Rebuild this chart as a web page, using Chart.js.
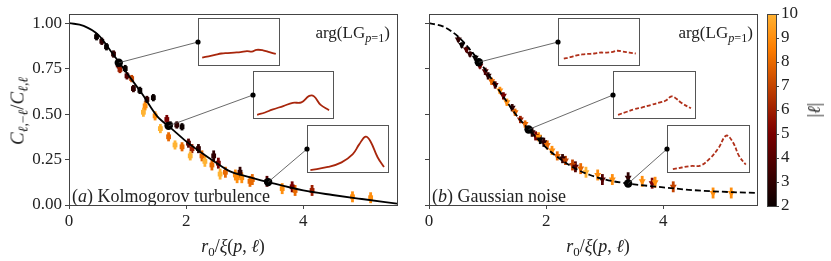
<!DOCTYPE html>
<html>
<head>
<meta charset="utf-8">
<script src="https://cdn.jsdelivr.net/npm/chart.js@4.4.1/dist/chart.umd.min.js"></script>
<style>
  body { margin: 0; background: #fff; }
  #wrap { position: relative; width: 831px; height: 261px; overflow: hidden; font-family: 'Liberation Serif', serif; color: #222; }
  canvas.full { position: absolute; left: 0; top: 0; z-index: 2; }
  .inset { position: absolute; border: 1px solid #555; background: #fff; box-sizing: border-box; z-index: 1; }
  .inset canvas { display: block; }
  .lbl { position: absolute; white-space: nowrap; font-size: 17px; z-index: 3; line-height: 1; }
  .rot { transform: translate(-50%, -50%) rotate(-90deg); }
  sub { font-size: 0.72em; vertical-align: -0.3em; line-height: 0; }
</style>
</head>
<body>
<div id="wrap">
  <canvas id="panelA" class="full" width="831" height="261"></canvas>
  <canvas id="panelB" class="full" width="831" height="261"></canvas>
  <canvas id="cbar" class="full" width="831" height="261"></canvas>

  <div class="inset" id="a1" style="left:198px;top:18px;width:82px;height:48px"><canvas width="80" height="46"></canvas></div>
  <div class="inset" id="a2" style="left:253px;top:71px;width:81px;height:48px"><canvas width="79" height="46"></canvas></div>
  <div class="inset" id="a3" style="left:307px;top:125px;width:82px;height:48px"><canvas width="80" height="46"></canvas></div>
  <div class="inset" id="b1" style="left:558px;top:18px;width:82px;height:48px"><canvas width="80" height="46"></canvas></div>
  <div class="inset" id="b2" style="left:613px;top:71px;width:83px;height:48px"><canvas width="81" height="46"></canvas></div>
  <div class="inset" id="b3" style="left:667px;top:125px;width:83px;height:48px"><canvas width="81" height="46"></canvas></div>

  <div class="lbl rot" style="left:17px;top:111px;font-size:19px"><i>C</i><sub><i>ℓ</i>,−<i>ℓ</i></sub>/<i>C</i><sub><i>ℓ</i>,<i>ℓ</i></sub></div>
  <div class="lbl" style="left:233px;top:237px;font-size:18px;transform:translateX(-50%)"><i>r</i><sub>0</sub>/<i>ξ</i>(<i>p</i>, <i>ℓ</i>)</div>
  <div class="lbl" style="left:598px;top:237px;font-size:18px;transform:translateX(-50%)"><i>r</i><sub>0</sub>/<i>ξ</i>(<i>p</i>, <i>ℓ</i>)</div>
  <div class="lbl" style="right:441px;top:24px">arg(LG<sub><i>p</i>=1</sub>)</div>
  <div class="lbl" style="right:78px;top:24px">arg(LG<sub><i>p</i>=1</sub>)</div>
  <div class="lbl" style="left:72px;top:187px;font-size:18px">(<i>a</i>) Kolmogorov turbulence</div>
  <div class="lbl" style="left:432px;top:187px;font-size:18px">(<i>b</i>) Gaussian noise</div>
  <div class="lbl rot" style="left:814px;top:110px;font-size:18px">|<i>ℓ</i>|</div>
</div>

<script>
// axis ticks
const xTicks = [0, 2, 4];
const yTicks = [0, 0.25, 0.5, 0.75, 1.0];
const yTickLabels = ['0.00', '0.25', '0.50', '0.75', '1.00'];
const cbTicks = [2, 3, 4, 5, 6, 7, 8, 9, 10];

// model curves
const curveX = [0, 0.25, 0.5, 0.75, 1.0, 1.25, 1.5, 1.75, 2.0, 2.25, 2.5, 2.75, 3.0, 3.4, 4.0, 4.5, 5.0, 5.6];
const kolCurveY = [1.0, 0.985, 0.935, 0.83, 0.72, 0.61, 0.49, 0.42, 0.35, 0.29, 0.235, 0.185, 0.16, 0.126, 0.08, 0.055, 0.033, 0.008];
const gauCurveY = [1.0, 0.98, 0.925, 0.835, 0.725, 0.605, 0.49, 0.40, 0.315, 0.25, 0.20, 0.165, 0.14, 0.118, 0.097, 0.082, 0.073, 0.066];

// highlighted points linked to the insets
const markX = [0.85, 1.7, 3.4];
const kolMarkY = [0.782, 0.435, 0.126];
const gauMarkY = [0.785, 0.415, 0.118];

// (a) Kolmogorov turbulence measurements
const kolX = [0.47, 0.56, 0.64, 0.76, 0.84, 0.87, 0.96, 0.99, 1.07, 1.10, 1.21, 1.27, 1.30, 1.33, 1.44, 1.47,
              1.56, 1.67, 1.73, 1.84, 1.93, 1.70, 1.81, 1.93, 2.04, 2.10, 2.07, 2.21, 2.27, 2.32, 2.44, 2.47,
              2.55, 2.58, 2.67, 2.84, 2.87, 2.92, 2.95, 3.09, 3.13, 3.38, 3.64, 3.81, 3.86, 4.15, 4.84, 5.15];
const kolY = [0.925, 0.90, 0.87, 0.83, 0.77, 0.745, 0.75, 0.71, 0.695, 0.64, 0.63, 0.51, 0.545, 0.58, 0.59, 0.49,
              0.42, 0.47, 0.44, 0.44, 0.43, 0.375, 0.33, 0.32, 0.34, 0.31, 0.27, 0.31, 0.27, 0.24, 0.22, 0.27,
              0.23, 0.17, 0.18, 0.165, 0.15, 0.18, 0.15, 0.13, 0.14, 0.13, 0.09, 0.10, 0.08, 0.08, 0.045, 0.04];
const kolErr = [0.02, 0.02, 0.02, 0.02, 0.02, 0.02, 0.02, 0.02, 0.02, 0.02, 0.02, 0.025, 0.025, 0.02, 0.02, 0.025,
                0.025, 0.025, 0.02, 0.02, 0.02, 0.025, 0.025, 0.025, 0.025, 0.025, 0.025, 0.025, 0.03, 0.03, 0.03, 0.03,
                0.03, 0.03, 0.03, 0.03, 0.03, 0.03, 0.03, 0.03, 0.03, 0.03, 0.03, 0.03, 0.03, 0.03, 0.03, 0.03];
const kolL = [2, 3, 2, 3, 4, 6, 2, 4, 7, 3, 2, 10, 9, 3, 2, 9,
              10, 5, 2, 3, 2, 8, 10, 8, 4, 6, 10, 3, 8, 10, 8, 3,
              5, 10, 8, 9, 9, 3, 9, 8, 8, 4, 9, 5, 8, 6, 9, 9];

// (b) Gaussian noise measurements
const gauX = [0.50, 0.56, 0.64, 0.70, 0.79, 0.87, 0.96, 1.01, 1.07, 1.13, 1.21, 1.27, 1.33, 1.42, 1.47, 1.56,
              1.64, 1.76, 1.82, 1.87, 1.90, 1.96, 2.02, 2.10, 2.19, 2.28, 2.33, 2.45, 2.50, 2.59, 2.68, 2.88,
              2.96, 3.13, 3.40, 3.64, 3.81, 3.86, 4.17, 4.85, 5.16];
const gauY = [0.91, 0.88, 0.855, 0.83, 0.81, 0.765, 0.735, 0.71, 0.68, 0.66, 0.63, 0.60, 0.565, 0.535, 0.51, 0.47,
              0.445, 0.40, 0.38, 0.375, 0.36, 0.345, 0.33, 0.30, 0.27, 0.255, 0.245, 0.22, 0.21, 0.20, 0.18, 0.165,
              0.14, 0.14, 0.15, 0.13, 0.12, 0.125, 0.10, 0.066, 0.066];
const gauErr = [0.015, 0.015, 0.015, 0.015, 0.015, 0.015, 0.02, 0.02, 0.02, 0.02, 0.02, 0.02, 0.02, 0.02, 0.02, 0.02,
                0.02, 0.025, 0.025, 0.025, 0.025, 0.025, 0.025, 0.025, 0.025, 0.025, 0.025, 0.03, 0.03, 0.03, 0.03, 0.03,
                0.03, 0.03, 0.03, 0.03, 0.03, 0.03, 0.03, 0.03, 0.03];
const gauL = [3, 2, 4, 3, 2, 5, 4, 3, 8, 4, 9, 5, 9, 3, 8, 6,
              8, 3, 5, 9, 2, 3, 8, 9, 8, 3, 7, 7, 4, 8, 10, 9,
              4, 9, 3, 9, 5, 9, 7, 9, 9];

// inset phase profiles (fractions of the inset box)
const insetA1X = [0.04, 0.12, 0.2, 0.28, 0.36, 0.44, 0.52, 0.6, 0.66, 0.72, 0.8, 0.88, 0.96];
const insetA1Y = [0.16, 0.19, 0.22, 0.25, 0.26, 0.27, 0.28, 0.30, 0.29, 0.33, 0.32, 0.28, 0.24];
const insetA2X = [0.04, 0.14, 0.23, 0.37, 0.49, 0.6, 0.70, 0.76, 0.84, 0.95];
const insetA2Y = [0.07, 0.12, 0.18, 0.26, 0.33, 0.34, 0.48, 0.47, 0.29, 0.17];
const insetA3X = [0.03, 0.25, 0.42, 0.56, 0.64, 0.72, 0.78, 0.87, 0.95];
const insetA3Y = [0.04, 0.11, 0.21, 0.39, 0.60, 0.77, 0.67, 0.32, 0.11];
const insetB1X = [0.06, 0.14, 0.22, 0.29, 0.36, 0.44, 0.51, 0.58, 0.66, 0.73, 0.8, 0.88, 0.96];
const insetB1Y = [0.14, 0.17, 0.21, 0.23, 0.24, 0.25, 0.27, 0.27, 0.28, 0.31, 0.29, 0.27, 0.25];
const insetB2X = [0.05, 0.15, 0.25, 0.35, 0.45, 0.57, 0.64, 0.71, 0.77, 0.83, 0.95];
const insetB2Y = [0.07, 0.13, 0.19, 0.23, 0.28, 0.34, 0.38, 0.47, 0.42, 0.33, 0.21];
const insetB3X = [0.06, 0.28, 0.4, 0.52, 0.62, 0.72, 0.8, 0.88, 0.96];
const insetB3Y = [0.06, 0.13, 0.14, 0.30, 0.51, 0.79, 0.65, 0.34, 0.16];

const SERIF = "'Liberation Serif', serif";
const INK = '#222';
const FRAME = '#444';

// truncated afmhot colour map for |l| in [2, 10]
function lColor(l) {
    const t = 0.02 + (l - 2) / 8 * 0.58;
    const c = v => Math.round(255 * Math.max(0, Math.min(1, v)));
    return `rgb(${c(2 * t)}, ${c(2 * t - 0.5)}, ${c(2 * t - 1)})`;
}

const toXY = (xs, ys) => xs.map((x, i) => ({ x: x, y: ys[i] }));

// frame, error bars and inset connectors
const panelPlugin = {
    id: 'panelExtras',
    beforeDatasetsDraw(chart) {
        const { ctx, scales } = chart;
        chart.data.datasets.forEach(ds => {
            if (!ds.yErr) return;
            ctx.save();
            ctx.lineWidth = 2.8;
            ds.data.forEach((p, i) => {
                const px = scales.x.getPixelForValue(p.x);
                ctx.strokeStyle = ds.pointBackgroundColor[i];
                ctx.beginPath();
                ctx.moveTo(px, scales.y.getPixelForValue(p.y - ds.yErr[i]));
                ctx.lineTo(px, scales.y.getPixelForValue(p.y + ds.yErr[i]));
                ctx.stroke();
            });
            ctx.restore();
        });
    },
    afterDatasetsDraw(chart, args, opts) {
        const { ctx, chartArea: a } = chart;
        ctx.save();
        ctx.strokeStyle = FRAME;
        ctx.lineWidth = 1;
        ctx.strokeRect(a.left + 0.5, a.top + 0.5, a.right - a.left, a.bottom - a.top);
        if (opts.insets) {
            const meta = chart.getDatasetMeta(0);
            opts.insets.forEach((id, i) => {
                const el = document.getElementById(id);
                const tx = el.offsetLeft, ty = el.offsetTop + el.offsetHeight / 2;
                const p = meta.data[i];
                ctx.strokeStyle = '#444';
                ctx.lineWidth = 0.8;
                ctx.beginPath();
                ctx.moveTo(p.x, p.y);
                ctx.lineTo(tx, ty);
                ctx.stroke();
                ctx.fillStyle = '#000';
                ctx.beginPath();
                ctx.arc(tx, ty, 2.6, 0, Math.PI * 2);
                ctx.fill();
            });
        }
        ctx.restore();
    }
};

function makePanel(canvasId, cfg) {
    return new Chart(document.getElementById(canvasId), {
        type: 'scatter',
        data: {
            datasets: [
                {
                    data: toXY(markX, cfg.markY),
                    pointRadius: 4.2, pointBackgroundColor: '#000', pointBorderColor: '#000', pointBorderWidth: 0
                },
                {
                    data: toXY(curveX, cfg.curveY),
                    showLine: true, pointRadius: 0, borderColor: '#000', borderWidth: 1.8,
                    borderDash: cfg.dash, cubicInterpolationMode: 'monotone'
                },
                {
                    data: toXY(cfg.xs, cfg.ys),
                    yErr: cfg.err,
                    pointStyle: cfg.marker, rotation: cfg.rotation, pointRadius: cfg.radius,
                    pointBackgroundColor: cfg.ls.map(lColor), pointBorderColor: cfg.ls.map(lColor), pointBorderWidth: 0
                }
            ]
        },
        options: {
            responsive: false,
            animation: false,
            events: [],
            layout: { padding: cfg.padding },
            plugins: {
                legend: { display: false },
                tooltip: { enabled: false },
                panelExtras: { insets: cfg.insets }
            },
            scales: {
                x: {
                    type: 'linear', min: 0, max: 5.6,
                    afterBuildTicks: s => { s.ticks = xTicks.map(v => ({ value: v })); },
                    afterFit: s => { s.height = 56; },
                    grid: { drawOnChartArea: false, drawTicks: true, tickLength: 4, color: FRAME },
                    border: { display: false },
                    ticks: { color: INK, padding: 2, font: { family: SERIF, size: 17 }, maxRotation: 0, callback: v => String(v) }
                },
                y: {
                    type: 'linear', min: 0, max: 1.05,
                    afterBuildTicks: s => { s.ticks = yTicks.map(v => ({ value: v })); },
                    afterFit: s => { s.width = 45; },
                    grid: { drawOnChartArea: false, drawTicks: true, tickLength: 4, color: FRAME },
                    border: { display: false },
                    ticks: {
                        color: cfg.yLabels ? INK : 'rgba(0,0,0,0)', padding: 3,
                        font: { family: SERIF, size: 17 },
                        callback: v => yTickLabels[yTicks.indexOf(v)]
                    }
                }
            }
        },
        plugins: [panelPlugin]
    });
}

makePanel('panelA', {
    markY: kolMarkY, curveY: kolCurveY, dash: [],
    xs: kolX, ys: kolY, err: kolErr, ls: kolL,
    marker: 'rect', rotation: 0, radius: 3.4,
    padding: { left: 24, right: 434, top: 14, bottom: 0 },
    insets: ['a1', 'a2', 'a3'], yLabels: true
});

makePanel('panelB', {
    markY: gauMarkY, curveY: gauCurveY, dash: [6, 3],
    xs: gauX, ys: gauY, err: gauErr, ls: gauL,
    marker: 'triangle', rotation: 180, radius: 4,
    padding: { left: 384, right: 74, top: 14, bottom: 0 },
    insets: ['b1', 'b2', 'b3'], yLabels: false
});

// colour bar
new Chart(document.getElementById('cbar'), {
    type: 'bar',
    data: {
        labels: [''],
        datasets: [{
            data: [[cbTicks[0], cbTicks[cbTicks.length - 1]]],
            barPercentage: 1, categoryPercentage: 1,
            backgroundColor: c => {
                const a = c.chart.chartArea;
                if (!a) return null;
                const g = c.chart.ctx.createLinearGradient(0, a.bottom, 0, a.top);
                for (let k = 0; k <= 16; k++) g.addColorStop(k / 16, lColor(2 + k / 2));
                return g;
            }
        }]
    },
    options: {
        responsive: false,
        animation: false,
        events: [],
        layout: { padding: { left: 767, right: 15, top: 14, bottom: 55 } },
        plugins: { legend: { display: false }, tooltip: { enabled: false }, panelExtras: {} },
        scales: {
            x: { display: false },
            y: {
                position: 'right', min: 2, max: 10,
                afterBuildTicks: s => { s.ticks = cbTicks.map(v => ({ value: v })); },
                afterFit: s => { s.width = 40; },
                grid: { drawOnChartArea: false, drawTicks: true, tickLength: 3, color: FRAME },
                border: { display: false },
                ticks: { color: INK, padding: 2, font: { family: SERIF, size: 17 } }
            }
        }
    },
    plugins: [panelPlugin]
});

// insets
function makeInset(id, xs, ys, dashed) {
    const canvas = document.querySelector('#' + id + ' canvas');
    new Chart(canvas, {
        type: 'scatter',
        data: {
            datasets: [{
                data: toXY(xs, ys), showLine: true, pointRadius: 0,
                borderColor: dashed ? '#b0301a' : '#a8260c', borderWidth: 1.8,
                borderDash: dashed ? [4, 2] : [], tension: 0.4
            }]
        },
        options: {
            responsive: false, animation: false, events: [],
            layout: { padding: 0 },
            plugins: { legend: { display: false }, tooltip: { enabled: false } },
            scales: { x: { display: false, min: 0, max: 1 }, y: { display: false, min: 0, max: 1 } }
        }
    });
}
makeInset('a1', insetA1X, insetA1Y, false);
makeInset('a2', insetA2X, insetA2Y, false);
makeInset('a3', insetA3X, insetA3Y, false);
makeInset('b1', insetB1X, insetB1Y, true);
makeInset('b2', insetB2X, insetB2Y, true);
makeInset('b3', insetB3X, insetB3Y, true);
</script>
</body>
</html>
